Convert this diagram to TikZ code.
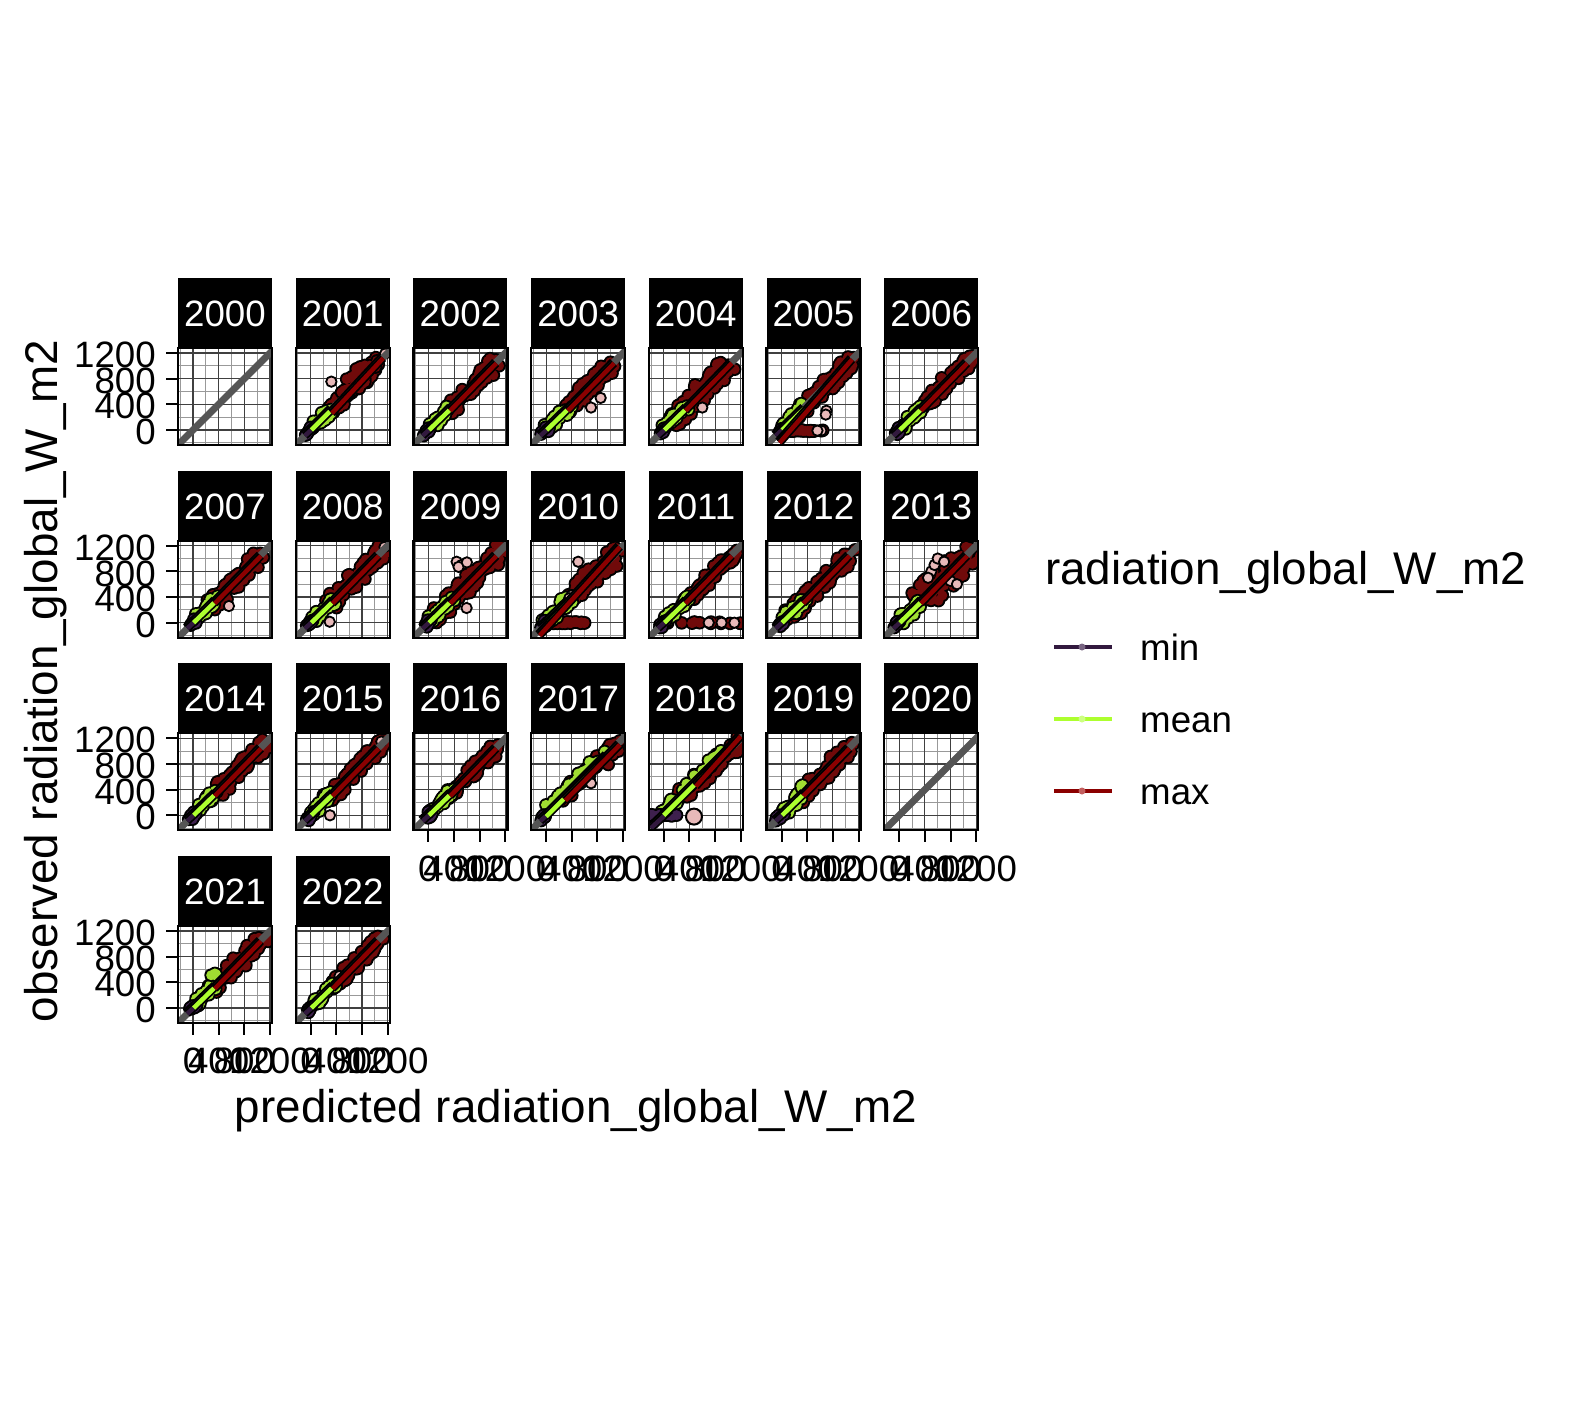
\documentclass[tikz,border=0pt]{standalone}
\usepackage{fontspec}
\setmainfont{Liberation Sans}
\definecolor{minc}{RGB}{50,25,62}
\definecolor{meanc}{RGB}{173,255,47}
\definecolor{maxc}{RGB}{139,0,0}
\definecolor{minf}{RGB}{62,32,78}
\definecolor{meanf}{RGB}{160,222,50}
\definecolor{maxf}{RGB}{112,10,10}
\definecolor{pinkf}{RGB}{232,185,185}
\definecolor{diagc}{RGB}{85,85,85}
\definecolor{minkey}{RGB}{120,100,130}
\definecolor{meankey}{RGB}{205,255,130}
\definecolor{maxkey}{RGB}{195,95,95}
\tikzset{
 minorgrid/.style={draw=black!40, line width=0.8pt},
 majorgrid/.style={draw=black!75, line width=1.1pt},
 border/.style={draw=black, line width=2.2pt},
 tickmark/.style={draw=black, line width=2pt},
 ticklab/.style={font=\fontsize{36.7}{40}\selectfont, inner sep=0pt},
 striplab/.style={font=\fontsize{36.7}{40}\selectfont, text=white, inner sep=0pt},
 axtitle/.style={font=\fontsize{45.8}{50}\selectfont, inner sep=0pt},
 diagline/.style={draw=diagc, line width=7pt},
 keyline/.style={line width=3.5pt},
}
% cloud of points along the diagonal: seed, tmin, tmax, spread, n, colour, y offset
\newcommand\pcloud[7]{%
 \pgfmathsetseed{#1}%
 \foreach \k in {1,...,#5}{%
  \pgfmathsetmacro\cT{(#2)+rnd*((#3)-(#2))}%
  \pgfmathsetmacro\cX{\cT+(#4)*rand}%
  \pgfmathsetmacro\cY{\cT+(#7)+(#4)*rand}%
  \fill[black] (\cX,\cY) circle[radius=6.8pt];}%
 \pgfmathsetseed{#1}%
 \foreach \k in {1,...,#5}{%
  \pgfmathsetmacro\cT{(#2)+rnd*((#3)-(#2))}%
  \pgfmathsetmacro\cX{\cT+(#4)*rand}%
  \pgfmathsetmacro\cY{\cT+(#7)+(#4)*rand}%
  \fill[#6] (\cX,\cY) circle[radius=5pt];}%
}
% horizontal cloud: seed, xmin, xmax, y, n, colour
\newcommand\phcloud[6]{%
 \pgfmathsetseed{#1}%
 \foreach \k in {1,...,#5}{%
  \pgfmathsetmacro\cX{(#2)+rnd*((#3)-(#2))}%
  \pgfmathsetmacro\cY{(#4)+12*rand}%
  \fill[black] (\cX,\cY) circle[radius=6.8pt];}%
 \pgfmathsetseed{#1}%
 \foreach \k in {1,...,#5}{%
  \pgfmathsetmacro\cX{(#2)+rnd*((#3)-(#2))}%
  \pgfmathsetmacro\cY{(#4)+12*rand}%
  \fill[#6] (\cX,\cY) circle[radius=5pt];}%
}
\newcommand\ppts[1]{%
 \foreach \p in {#1}{\filldraw[fill=pinkf, draw=black, line width=1.8pt] \p circle[radius=5.2pt];}%
}
\newcommand\pdiag{\draw[diagline] (-400,-400) -- (1500,1500);}
\newcommand\preg[5]{%
 \draw[black, line width=2pt] ({(#2)-55},{(#3)+55}) -- ({(#4)-55},{(#5)+55});%
 \draw[black, line width=8pt] (#2,#3) -- (#4,#5);%
 \draw[#1, line width=4.5pt] (#2,#3) -- (#4,#5);%
}
\newcommand\pstd[4]{%
 \pcloud{#11}{#2}{#3}{#4}{90}{maxf}{0}%
 \pcloud{#12}{20}{360}{55}{26}{meanf}{10}%
 \pcloud{#13}{-60}{30}{30}{8}{minf}{0}%
}
\newcommand\pstdreg{%
 \preg{minc}{-90}{-90}{30}{20}%
 \preg{meanc}{10}{0}{360}{340}%
 \preg{maxc}{340}{300}{1060}{1040}%
}
% panel: left, top, year, content
\newcommand\ppanel[4]{%
 \fill[black] (#1,#2) rectangle ++(94,70);
 \node[striplab] (s#3) at ({#1+47},{#2+36}) {#3};
 \begin{scope}
  \clip (#1,{#2+70}) rectangle ++(94,97);
  \fill[white] (#1,{#2+70}) rectangle ++(94,97);
  \begin{scope}[shift={({#1+15},{#2+152})}, x=0.06417pt, y=0.06417pt]
   \foreach \g in {-200,200,600,1000}{\draw[minorgrid] (\g,-400) -- (\g,1500); \draw[minorgrid] (-400,\g) -- (1500,\g);}
   \foreach \g in {0,400,800,1200}{\draw[majorgrid] (\g,-400) -- (\g,1500); \draw[majorgrid] (-400,\g) -- (1500,\g);}
   #4
  \end{scope}
 \end{scope}
 \draw[border] (#1,{#2+70}) rectangle ++(94,97);
}
\newcommand\pyaxis[2]{%
 \foreach \v in {0,400,800,1200}{%
  \pgfmathsetmacro\yy{#2+152-\v*0.06417}%
  \draw[tickmark] ({#1-12},\yy) -- (#1,\yy);
  \node[ticklab, anchor=east] at ({#1-22},{\yy+2}) {\v};}%
}
\newcommand\pxaxis[2]{%
 \foreach \v in {0,400,800,1200}{%
  \pgfmathsetmacro\xx{#1+15+\v*0.06417}%
  \draw[tickmark] (\xx,{#2+167}) -- (\xx,{#2+179});
  \node[ticklab, anchor=north] at (\xx,{#2+192}) {\v};}%
}
\begin{document}
\begin{tikzpicture}[x=1pt, y=-1pt]
\useasboundingbox[fill=white] (0,0) rectangle (1574,1411);
\def\La{178}\def\Lb{295.7}\def\Lc{413.4}\def\Ld{531.1}\def\Le{648.8}\def\Lf{766.5}\def\Lg{884.2}
\def\Ta{278}\def\Tb{470.7}\def\Tc{663.3}\def\Td{856}
% row 1
\ppanel{\La}{\Ta}{2000}{\pdiag}
\ppanel{\Lb}{\Ta}{2001}{%
 \pcloud{11}{300}{1100}{90}{70}{maxf}{-20}
 \pcloud{15}{550}{950}{120}{35}{maxf}{40}
 \pcloud{12}{30}{330}{55}{26}{meanf}{0}
 \pcloud{13}{-70}{20}{30}{8}{minf}{0}
 \ppts{(322,754),(1160,1190)}
 \pdiag
 \preg{minc}{-90}{-90}{30}{20}
 \preg{meanc}{10}{0}{330}{320}
 \preg{maxc}{330}{260}{1130}{1120}}
\ppanel{\Lc}{\Ta}{2002}{\pstd{2}{300}{1100}{80}\pdiag\pstdreg}
\ppanel{\Ld}{\Ta}{2003}{\pstd{3}{350}{1020}{85}\ppts{(850,500),(700,350)}\pdiag\pstdreg}
\ppanel{\Le}{\Ta}{2004}{\pstd{4}{150}{1000}{120}\ppts{(600,350)}\pdiag\pstdreg}
\ppanel{\Lf}{\Ta}{2005}{%
 \pstd{5}{300}{1100}{80}
 \phcloud{56}{100}{650}{-10}{22}{maxf}
 \ppts{(700,300),(690,240),(620,-10),(560,-10)}
 \pdiag
 \preg{minc}{-90}{-90}{30}{20}
 \preg{meanc}{10}{0}{360}{340}
 \preg{maxc}{-30}{-200}{1100}{1100}}
\ppanel{\Lg}{\Ta}{2006}{\pstd{6}{320}{1100}{80}\pdiag\pstdreg}
% row 2
\ppanel{\La}{\Tb}{2007}{\pstd{7}{250}{1050}{90}\ppts{(560,260)}\pdiag\pstdreg}
\ppanel{\Lb}{\Tb}{2008}{\pstd{8}{250}{1150}{90}\ppts{(296,15),(1150,1180)}\pdiag\pstdreg}
\ppanel{\Lc}{\Tb}{2009}{%
 \pstd{9}{100}{1150}{110}
 \ppts{(440,950),(520,900),(470,870),(600,940),(595,229)}
 \pdiag\pstdreg}
\ppanel{\Ld}{\Tb}{2010}{%
 \pcloud{101}{400}{1150}{110}{80}{maxf}{0}
 \phcloud{104}{100}{700}{0}{24}{maxf}
 \pcloud{102}{0}{350}{75}{36}{meanf}{20}
 \pcloud{103}{-60}{30}{30}{8}{minf}{0}
 \ppts{(500,950),(400,430),(360,380)}
 \pdiag
 \preg{minc}{-90}{-90}{30}{20}
 \preg{meanc}{10}{0}{360}{340}
 \preg{maxc}{-100}{-200}{1150}{1180}}
\ppanel{\Le}{\Tb}{2011}{%
 \pcloud{111}{350}{1100}{70}{70}{maxf}{0}
 \phcloud{114}{0}{1200}{0}{12}{maxf}
 \pcloud{112}{20}{360}{55}{26}{meanf}{10}
 \pcloud{113}{-60}{30}{30}{8}{minf}{0}
 \ppts{(900,0),(1100,0),(700,0)}
 \pdiag\pstdreg}
\ppanel{\Lf}{\Tb}{2012}{\pstd{12}{100}{1100}{90}\pdiag\pstdreg}
\ppanel{\Lg}{\Tb}{2013}{%
 \pcloud{131}{300}{1100}{160}{100}{maxf}{0}
 \pcloud{132}{0}{300}{60}{26}{meanf}{0}
 \pcloud{133}{-60}{30}{30}{8}{minf}{0}
 \ppts{(500,800),(550,900),(600,1000),(700,950),(800,650),(900,600),(450,700)}
 \pdiag\pstdreg}
% row 3
\ppanel{\La}{\Tc}{2014}{\pstd{14}{250}{1100}{85}\pdiag\pstdreg}
\ppanel{\Lb}{\Tc}{2015}{\pstd{15}{250}{1150}{85}\ppts{(300,0),(1100,1150)}\pdiag\pstdreg}
\ppanel{\Lc}{\Tc}{2016}{\pstd{16}{300}{1050}{70}\pdiag\pstdreg}
\ppanel{\Ld}{\Tc}{2017}{%
 \pcloud{171}{250}{1100}{90}{80}{maxf}{0}
 \pcloud{172}{50}{900}{60}{40}{meanf}{60}
 \pcloud{173}{-60}{30}{30}{8}{minf}{0}
 \ppts{(700,500)}
 \pdiag
 \preg{minc}{-90}{-90}{30}{20}
 \preg{meanc}{0}{-20}{950}{930}
 \preg{maxc}{300}{230}{1150}{1100}}
\ppanel{\Le}{\Tc}{2018}{%
 \pcloud{181}{300}{1200}{90}{80}{maxf}{0}
 \pcloud{182}{0}{900}{60}{32}{meanf}{80}
 \phcloud{183}{-250}{200}{0}{14}{minf}
 \filldraw[fill=pinkf, draw=black, line width=2pt] (470,-20) circle[radius=8pt];
 \pdiag
 \preg{minc}{-200}{-200}{100}{80}
 \preg{meanc}{0}{0}{1000}{1000}
 \preg{maxc}{500}{450}{1200}{1230}}
\ppanel{\Lf}{\Tc}{2019}{\pstd{19}{250}{1100}{85}\pcloud{195}{250}{350}{30}{3}{meanf}{120}\pdiag\pstdreg}
\ppanel{\Lg}{\Tc}{2020}{\pdiag}
% row 4
\ppanel{\La}{\Td}{2021}{\pstd{21}{300}{1150}{85}\pcloud{215}{250}{350}{40}{4}{meanf}{200}\pdiag\pstdreg}
\ppanel{\Lb}{\Td}{2022}{\pstd{22}{300}{1100}{80}\ppts{(450,500)}\pdiag\pstdreg}
% axes
\pyaxis{\La}{\Ta}\pyaxis{\La}{\Tb}\pyaxis{\La}{\Tc}\pyaxis{\La}{\Td}
\pxaxis{\Lc}{\Tc}\pxaxis{\Ld}{\Tc}\pxaxis{\Le}{\Tc}\pxaxis{\Lf}{\Tc}\pxaxis{\Lg}{\Tc}
\pxaxis{\La}{\Td}\pxaxis{\Lb}{\Td}
% axis titles
\node[axtitle, anchor=base] (xt) at (576,1122) {predicted radiation\_global\_W\_m2};
\node[axtitle, anchor=base, rotate=90] (yt) at (57,681) {observed radiation\_global\_W\_m2};
% legend
\node[axtitle, anchor=base west] (lt) at (1045,584) {radiation\_global\_W\_m2};
\coordinate (ka1) at (1054,647); \coordinate (kb1) at (1112,647);
\coordinate (ka2) at (1054,719); \coordinate (kb2) at (1112,719);
\coordinate (ka3) at (1054,791); \coordinate (kb3) at (1112,791);
\draw[keyline, minc] (ka1) -- (kb1); \fill[minkey] (1082,647) circle[radius=3.5pt];
\draw[keyline, meanc] (ka2) -- (kb2); \fill[meankey] (1082,719) circle[radius=3.5pt];
\draw[keyline, maxc] (ka3) -- (kb3); \fill[maxkey] (1082,791) circle[radius=3.5pt];
\node[ticklab, anchor=base west] (l1) at (1140,660) {min};
\node[ticklab, anchor=base west] (l2) at (1140,732) {mean};
\node[ticklab, anchor=base west] (l3) at (1140,804) {max};
\end{tikzpicture}
\end{document}
